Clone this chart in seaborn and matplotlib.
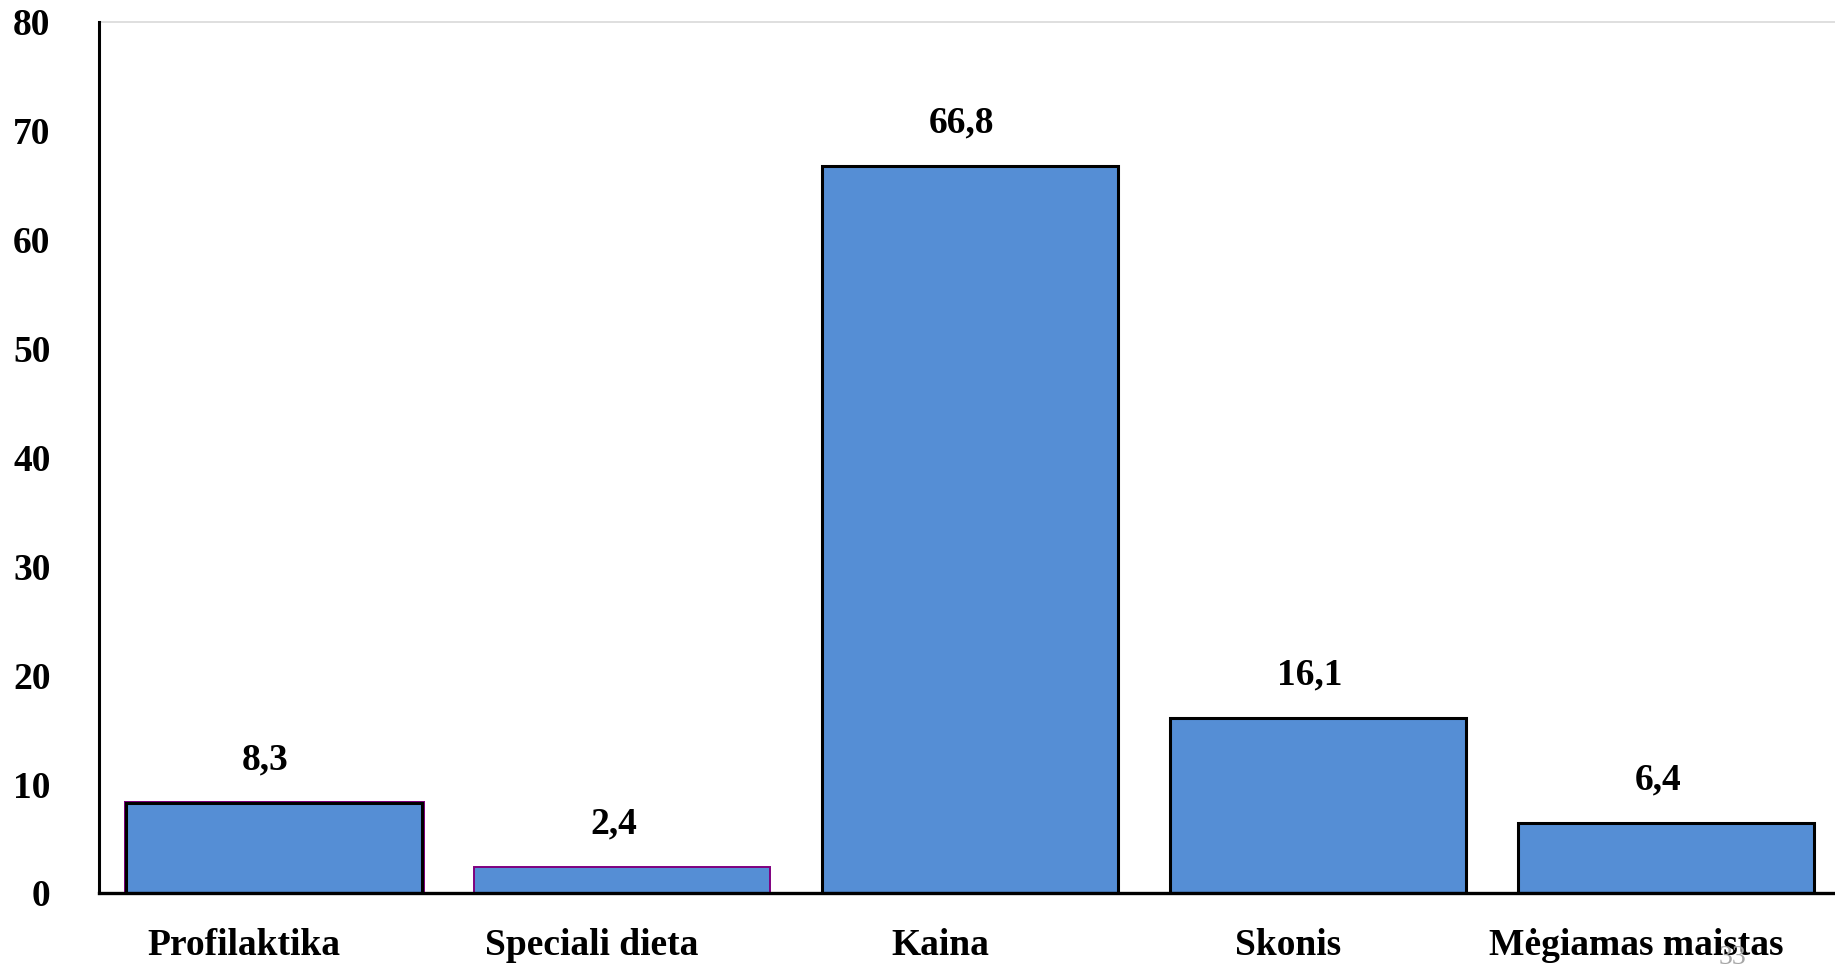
import matplotlib
matplotlib.use("Agg")
import matplotlib.pyplot as plt
import matplotlib.patheffects as pe
from matplotlib.transforms import ScaledTranslation
import seaborn as sns
import pandas as pd

categories = ["Profilaktika", "Speciali dieta", "Kaina", "Skonis", "Mėgiamas maistas"]
values = [8.3, 2.4, 66.8, 16.1, 6.4]
value_labels = ["8,3", "2,4", "66,8", "16,1", "6,4"]
y_ticks = [0, 10, 20, 30, 40, 50, 60, 70, 80]

sns.set_theme(style="white")
plt.rcParams["font.family"] = ["Liberation Serif", "DejaVu Serif"]
plt.rcParams["font.weight"] = "bold"
plt.rcParams["text.color"] = "black"
plt.rcParams["xtick.color"] = "black"
plt.rcParams["ytick.color"] = "black"

df = pd.DataFrame({"kategorija": categories, "procentai": values})

fig = plt.figure(figsize=(18.35, 9.64), dpi=100)
ax = fig.add_axes([0.054, 0.0737, 0.946, 0.9035])

bar_color = "#558ED5"
sns.barplot(data=df, x="kategorija", y="procentai", color=bar_color,
            width=0.85, saturation=1, ax=ax, zorder=3)

edge_colors = ["black", "#7F007F", "black", "black", "black"]
edge_widths = [2.2, 1.4, 2.2, 2.2, 2.2]
for i, patch in enumerate(ax.patches):
    patch.set_edgecolor(edge_colors[i])
    patch.set_linewidth(edge_widths[i])
ax.patches[0].set_path_effects([pe.Stroke(linewidth=3.6, foreground="#7F007F"), pe.Normal()])

# value labels above each bar
for i, (v, lab) in enumerate(zip(values, value_labels)):
    ax.annotate(lab, xy=(i, v), xytext=(-6, 31), textcoords="offset points",
                ha="center", va="center", fontsize=27, fontweight="bold", color="black")

ax.set_ylim(0, 80)
ax.set_xlim(-0.502, 4.485)
ax.set_yticks(y_ticks)
ax.set_yticklabels([str(t) for t in y_ticks], fontsize=27, fontweight="bold", color="black")
ax.set_xticklabels(categories, fontsize=27, fontweight="bold", color="black")
ax.tick_params(axis="y", length=0, pad=35)
ax.tick_params(axis="x", length=0, pad=25)
for lab in ax.get_xticklabels():
    lab.set_transform(lab.get_transform() + ScaledTranslation(-30 / 100, 0, fig.dpi_scale_trans))

ax.set_xlabel("")
ax.set_ylabel("")

ax.spines["right"].set_visible(False)
ax.spines["top"].set_color("#d9d9d9")
ax.spines["top"].set_linewidth(1.2)
ax.spines["left"].set_color("black")
ax.spines["left"].set_linewidth(2.2)
ax.spines["bottom"].set_color("black")
ax.spines["bottom"].set_linewidth(2.4)
ax.spines["left"].set_zorder(4)
ax.spines["bottom"].set_zorder(4)

# slide number
fig.text(0.944, -0.006, "33", fontsize=20, color="#a6a6a6", fontweight="normal",
         ha="center", va="bottom")

fig.savefig("out.png", dpi=100, facecolor="white")
